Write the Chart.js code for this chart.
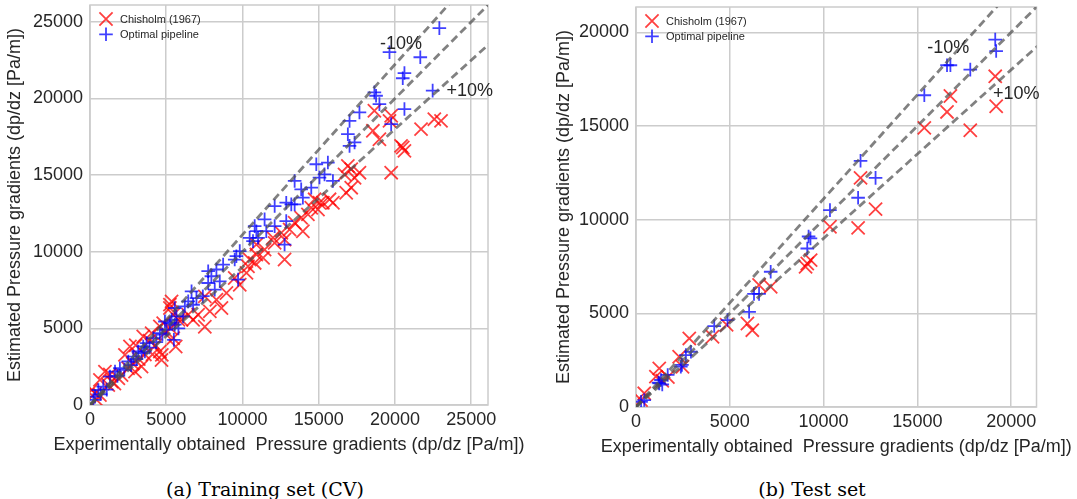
<!DOCTYPE html>
<html lang="en">
<head>
  <meta charset="UTF-8">
  <title>Pressure gradients</title>
  <style>
    body { margin: 0; background: #fff; width: 1077px; height: 499px; position: relative; overflow: hidden; }
    .panel { position: absolute; top: 0; height: 470px; }
    .caption { position: absolute; top: 479px; line-height: 21px; font-family: "DejaVu Serif", serif; font-size: 19px; color: #000; transform: translateX(-50%); white-space: nowrap; }
  </style>
</head>
<body>
  <div class="panel" style="left:0; width:540px;"><canvas id="train"></canvas></div>
  <div class="panel" style="left:540px; width:537px;"><canvas id="test"></canvas></div>
  <div class="caption" style="left:265px;">(a) Training set (CV)</div>
  <div class="caption" style="left:812px;">(b) Test set</div>

  <script src="https://cdn.jsdelivr.net/npm/chart.js"></script>
  <script>
    const seriesNames = ['Chisholm (1967)', 'Optimal pipeline'];

    // [experimental, estimated] in Pa/m
    const trainChisholm = [
      [110,980],[330,760],[440,330],[650,650],[650,1640],[980,2180],[1420,1530],[1860,1740],[2070,1960],[2290,3270],
      [2620,3820],[2950,2180],[3380,2510],[3490,4470],[4040,4690],[4580,3490],[4690,2940],[5240,6550],[5460,5890],[5460,4360],
      [6000,5560],[6440,5890],[1200,1300],[1600,1400],[2500,2400],[2800,2700],[3200,3000],[3600,3300],[3900,4200],[4300,3900],
      [4710,3270],[5620,3820],[4900,4700],[5300,5000],[1300,2000],[3000,3900],[4100,3300],
      [4580,5130],[4800,5340],[5240,6330],[5350,6760],[5800,5560],[6760,5560],[7090,5890],[7530,7090],[7860,6110],
      [8620,6330],[8290,6870],[8950,7310],[9820,7850],[9490,8290],[10260,8620],[7530,5110],[10910,10470],[10470,9490],
      [10360,9050],[10800,9270],[11350,9600],[12760,9490],[10910,9820],[11450,10140],[12110,10580],[12760,10800],[12000,10910],
      [12550,11240],[13960,11340],[13090,11450],[13420,11890],[13850,12220],[14290,12440],[14950,12760],[14510,12870],
      [15710,13420],[15270,13200],[14730,13420],[15930,13200],[15050,13200],
      [16690,15050],[16910,15600],[17130,15380],[17670,15160],[17350,14830],[16800,13850],[17130,14180],[19750,15160],
      [20400,16910],[20510,16800],[20620,16580],[18980,17340],[18550,17890],[21710,18000],[19640,18540],[19750,18870],
      [18650,19200],[22580,18650],[23020,18540]
    ];
    const trainOptimal = [
      [220,330],[330,540],[550,980],[700,700],[870,1200],[1100,1000],[1310,1850],[1640,2180],[1800,1900],[1960,2400],
      [2250,2300],[2510,2840],[2700,2600],[2840,3160],[3050,3000],[3160,3490],[3380,3380],[3490,3820],[3600,3500],[3710,4040],
      [3900,3750],[4150,4360],[4350,4100],[4580,4690],[4750,4600],[5020,4910],[5240,5350],[5560,5240],[5500,4250],[5800,5000],
      [4910,5450],[5350,5560],[5670,5780],[6110,5780],[5560,6330],[6220,6440],[6440,6760],[6760,6540],[6980,6980],[6660,7420],
      [7400,7100],[8180,7530],[7750,7960],[8510,8070],[9710,8180],[7960,8400],[7750,8730],[8290,8840],
      [8730,9160],[9490,9490],[9600,9710],[9820,10040],[10690,10690],[10470,10910],[11020,10910],[10910,11340],[11560,11340],
      [10800,11670],[12110,11670],[11450,12110],[12870,12000],[12760,10470],[12110,12980],[13200,13090],[13420,13090],
      [12870,13200],[13960,13530],[13850,14070],[14510,14180],[13420,14620],[15930,14620],[15050,14840],[15380,15050],
      [14840,15710],[15600,15820],
      [17020,16910],[17350,17130],[16910,17670],[17020,18540],[19750,18330],[17670,19090],[20620,19310],[18980,19630],
      [18760,20180],[18650,20400],[22470,20510],[20510,21320],[20620,21660],[21660,22690],[19640,23020],[22910,24590]
    ];
    const testChisholm = [
      [270,370],[440,730],[1060,1620],[1240,2060],[1400,1400],[1700,1600],[2300,2680],[2480,2150],[2840,3660],[4080,3750],
      [4830,4390],[5940,4460],[6200,4100],[6560,6510],[7180,6420],[9040,7480],[9130,7660],[9310,7840],[10340,9620],[11840,9560],
      [11970,12230],[12770,10560],[15370,14900],[16580,15750],[16760,16600],[17820,14770],[19150,17650],[19200,16050]
    ];
    const testOptimal = [
      [270,280],[440,370],[1200,1300],[1240,1260],[1330,1440],[1400,1200],[1690,1710],[2390,2150],[2450,2250],[2660,2770],
      [2930,2950],[4170,4320],[4880,4640],[6030,5080],[6290,6040],[6560,6040],[7180,7220],[9130,8460],[9200,9100],[9300,9000],
      [10340,10510],[11840,11170],[11970,13140],[12770,12230],[15370,16640],[16580,18240],[16760,18240],[17820,18010],
      [19150,19610],[19200,19000]
    ];

    const trainTicks = [0, 5000, 10000, 15000, 20000, 25000];
    const testTicks = [0, 5000, 10000, 15000, 20000];
    const trainMax = 26100;
    const testMax = 21350;

    // dashed bands: y = x/0.9, y = x, y = 0.9x
    const bandFactors = [1 / 0.9, 1, 0.9];
    const bandLabels = ['-10%', '+10%'];
    const trainLabelPos = [[19020, 23230], [23380, 20180]];
    const testLabelPos = [[15530, 18910], [19030, 16430]];

    const xTitle = 'Experimentally obtained  Pressure gradients (dp/dz [Pa/m])';
    const yTitle = 'Estimated Pressure gradients (dp/dz [Pa/m])';

    const family = "'Liberation Sans', Arial, sans-serif";
    const axisFont = { family, size: 18 };
    Chart.defaults.font.family = family;
    Chart.defaults.font.size = 18;
    Chart.defaults.color = '#262626';

    const toPts = arr => arr.map(([x, y]) => ({ x, y }));

    const frame = {
      id: 'frame',
      beforeDatasetsDraw(chart) {
        const { ctx, chartArea: a } = chart;
        ctx.save();
        ctx.strokeStyle = '#cccccc';
        ctx.lineWidth = 1.5;
        ctx.strokeRect(a.left, a.top, a.right - a.left, a.bottom - a.top);
        ctx.restore();
      }
    };

    const annotate = {
      id: 'annotate',
      afterDraw(chart, args, opts) {
        const { ctx, chartArea: a } = chart;
        const xs = chart.scales.x, ys = chart.scales.y;
        ctx.save();
        ctx.fillStyle = '#262626';
        ctx.font = '18px ' + family;
        ctx.textBaseline = 'alphabetic';
        ctx.textAlign = 'left';
        bandLabels.forEach((t, i) => {
          ctx.fillText(t, xs.getPixelForValue(opts.pos[i][0]), ys.getPixelForValue(opts.pos[i][1]));
        });

        // x axis title, drawn here so it is not squeezed to the plot width
        ctx.textAlign = 'center';
        ctx.fillText(xTitle, (a.left + a.right) / 2, opts.titleBase);

        // legend in the upper left of the plot, Chisholm first
        ctx.textAlign = 'left';
        ctx.font = '11px ' + family;
        ctx.textBaseline = 'middle';
        seriesNames.forEach((name, i) => {
          const d = chart.data.datasets.find(ds => ds.label === name);
          const cx = a.left + 16, cy = a.top + 14 + i * 15.3;
          ctx.strokeStyle = d.borderColor;
          ctx.lineWidth = d.borderWidth;
          Chart.helpers.drawPoint(ctx, { pointStyle: d.pointStyle, radius: d.pointRadius, borderWidth: d.borderWidth, rotation: 0 }, cx, cy);
          ctx.fillStyle = '#262626';
          ctx.fillText(name, a.left + 30, cy + 0.5);
        });
        ctx.restore();
      }
    };

    function makeChart(id, red, blue, max, ticks, labelPos, lay) {
      const lines = bandFactors.map(f => ({
        data: [{ x: 0, y: 0 }, { x: max * 1.3, y: max * 1.3 * f }],
        showLine: true,
        borderColor: 'rgba(80,80,80,0.72)',
        borderWidth: 2.8,
        borderDash: [8, 4.5],
        pointRadius: 0,
        clip: 0,
        order: 0
      }));
      const datasets = [
        ...lines,
        {
          label: seriesNames[1], data: toPts(blue), pointStyle: 'cross', pointRadius: 6.8,
          borderColor: 'rgba(0,0,255,0.75)', borderWidth: 1.8, order: 1
        },
        {
          label: seriesNames[0], data: toPts(red), pointStyle: 'crossRot', pointRadius: 9.3,
          borderColor: 'rgba(255,0,0,0.75)', borderWidth: 1.8, order: 2
        }
      ];
      const noPad = s => { s.paddingTop = 0; s.paddingBottom = 0; s.paddingLeft = 0; s.paddingRight = 0; };
      return new Chart(document.getElementById(id), {
        type: 'scatter',
        data: { datasets },
        options: {
          responsive: true,
          maintainAspectRatio: false,
          animation: false,
          layout: { autoPadding: false, padding: { left: 0, right: lay.right, top: lay.top, bottom: 0 } },
          plugins: {
            legend: { display: false },
            tooltip: { enabled: false },
            annotate: { pos: labelPos, titleBase: lay.titleBase }
          },
          scales: {
            x: {
              type: 'linear', min: 0, max,
              grid: { color: '#cccccc', lineWidth: 1.5, drawTicks: false },
              border: { display: false },
              ticks: { font: axisFont, color: '#262626', padding: 4, includeBounds: false, callback: v => String(v) },
              afterBuildTicks: s => { s.ticks = ticks.map(v => ({ value: v })); },
              afterFit: s => { s.height = lay.xh; noPad(s); }
            },
            y: {
              type: 'linear', min: 0, max,
              grid: { color: '#cccccc', lineWidth: 1.5, drawTicks: false },
              border: { display: false },
              ticks: { font: axisFont, color: '#262626', padding: 7, includeBounds: false, callback: v => String(v) },
              afterBuildTicks: s => { s.ticks = ticks.map(v => ({ value: v })); },
              afterFit: s => { s.width = lay.yw; noPad(s); },
              title: { display: true, text: yTitle, font: axisFont, color: '#262626', padding: { top: lay.ytp, bottom: 0 } }
            }
          }
        },
        plugins: [frame, annotate]
      });
    }

    makeChart('train', trainChisholm, trainOptimal, trainMax, trainTicks, trainLabelPos,
      { right: 52, top: 5, xh: 65, yw: 90, ytp: 4, titleBase: 450 });
    makeChart('test', testChisholm, testOptimal, testMax, testTicks, testLabelPos,
      { right: 40.5, top: 7, xh: 63, yw: 96, ytp: 13, titleBase: 452 });
  </script>
</body>
</html>
